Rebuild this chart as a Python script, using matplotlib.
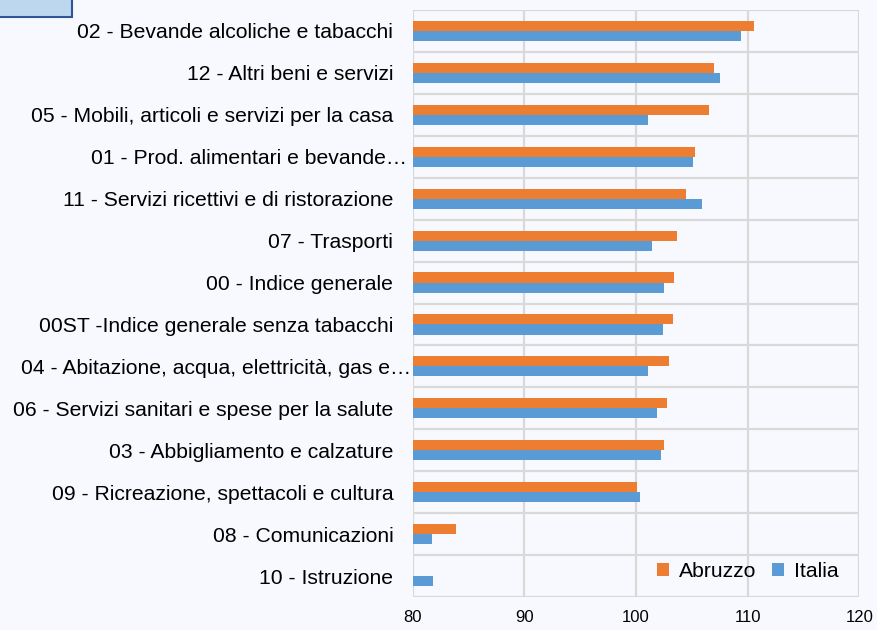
import matplotlib
matplotlib.use("Agg")
import matplotlib.pyplot as plt
import matplotlib.transforms as mtransforms
import numpy as np
from matplotlib.patches import Rectangle

categories = [
    "02 - Bevande alcoliche e tabacchi",
    "12 - Altri beni e servizi",
    "05 - Mobili, articoli e servizi per la casa",
    "01 - Prod. alimentari e bevande…",
    "11 - Servizi ricettivi e di ristorazione",
    "07 - Trasporti",
    "00 - Indice generale",
    "00ST -Indice generale senza tabacchi",
    "04 - Abitazione, acqua, elettricità, gas e…",
    "06 - Servizi sanitari e spese per la salute",
    "03 - Abbigliamento e calzature",
    "09 - Ricreazione, spettacoli e cultura",
    "08 - Comunicazioni",
    "10 - Istruzione",
]
abruzzo = [110.6, 107.0, 106.5, 105.3, 104.5, 103.7, 103.4, 103.3, 103.0, 102.8, 102.5, 100.1, 83.9, np.nan]
italia = [109.4, 107.5, 101.1, 105.1, 105.9, 101.4, 102.5, 102.4, 101.1, 101.9, 102.2, 100.4, 81.7, 81.8]
xticks = [80, 90, 100, 110, 120]

bg = "#F7F9FE"
orange = "#ED7D31"
blue = "#5B9BD5"
grid = "#D9D9D9"

plt.rcParams['font.family'] = ['Liberation Sans', 'DejaVu Sans']

fig = plt.figure(figsize=(8.78, 6.30), dpi=100, facecolor=bg)
ax = fig.add_axes([412.7/878, 1 - 597/630, (859.3 - 412.7)/878, (597 - 10)/630])
ax.set_facecolor(bg)

n = len(categories)
y = np.arange(n)
h = 0.24
left = 80
ab = np.array(abruzzo) - left
it = np.array(italia) - left
ax.barh(y - h/2, ab, height=h, left=left, color=orange, label="Abruzzo", zorder=3)
ax.barh(y + h/2, it, height=h, left=left, color=blue, label="Italia", zorder=3)

ax.set_xlim(80, 120)
ax.set_ylim(n - 0.5, -0.5)
ax.set_xticks(xticks)
ax.set_xticklabels([str(t) for t in xticks], fontsize=12)
ax.set_yticks(y)
ax.set_yticklabels(categories, fontsize=15.2)
ax.tick_params(axis='both', length=0, colors='#000000')
ax.tick_params(axis='y', pad=14)
ax.tick_params(axis='x', pad=9)

# truncated labels sit closer to the axis (ellipsis touches it)
for lab in ax.get_yticklabels():
    if lab.get_text().endswith("…"):
        dx = 18 if lab.get_text().startswith("04") else 14
        lab.set_transform(lab.get_transform() +
                          mtransforms.ScaledTranslation(dx/100, 0, fig.dpi_scale_trans))

for xv in xticks:
    ax.axvline(xv, color=grid, lw=1.6, zorder=1)
for b in np.arange(-0.5, n, 1.0):
    ax.axhline(b, color=grid, lw=1.6, zorder=1)
for s in ax.spines.values():
    s.set_visible(False)

leg = ax.legend(loc='lower right', bbox_to_anchor=(0.995, -0.003), frameon=False, ncol=2,
                fontsize=15.2, handlelength=0.55, handleheight=0.55, columnspacing=0.75,
                handletextpad=0.5, borderaxespad=0.45)

# top-left box
fig.patches.append(Rectangle((-0.01, 1 - 17/630), 72/878 + 0.01, 17/630 + 0.01,
                             transform=fig.transFigure, facecolor="#BDD7EE",
                             edgecolor="#2F5597", lw=1.5, zorder=5))

fig.savefig("out.png", dpi=100, facecolor=bg)
